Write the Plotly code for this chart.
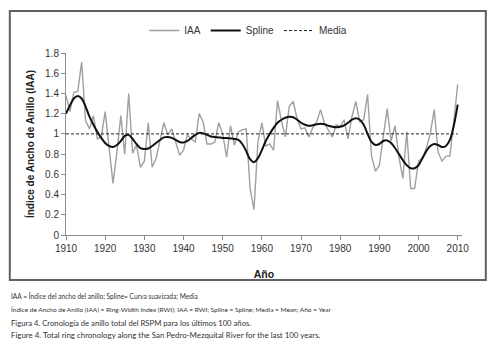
import plotly.graph_objects as go

years = list(range(1910, 2011))

iaa = [
    1.38, 1.22, 1.41, 1.42, 1.71, 1.13, 1.05, 1.18, 0.95, 0.97,  # 1910-1919
    1.22, 0.89, 0.51, 0.82, 1.18, 0.80, 1.40, 0.81, 0.89, 0.67,  # 1920-1929
    0.73, 1.11, 0.67, 0.76, 0.92, 1.11, 0.99, 1.05, 0.92, 0.79,  # 1930-1939
    0.84, 0.99, 0.95, 0.92, 1.20, 1.12, 0.90, 0.90, 0.92, 1.11,  # 1940-1949
    1.00, 0.77, 1.08, 0.89, 1.02, 1.04, 1.05, 0.46, 0.25, 0.92,  # 1950-1959
    1.11, 0.88, 0.90, 0.84, 1.33, 1.13, 0.97, 1.27, 1.32, 1.15,  # 1960-1969
    1.05, 1.06, 0.97, 1.06, 1.12, 1.24, 1.10, 1.04, 0.97, 1.09,  # 1970-1979
    1.07, 1.14, 0.95, 1.17, 1.32, 1.12, 1.14, 1.39, 0.78, 0.63,  # 1980-1989
    0.69, 0.97, 1.25, 0.93, 1.08, 0.77, 0.56, 1.02, 0.46, 0.46,  # 1990-1999
    0.73, 0.76, 0.86, 1.00, 1.24, 0.82, 0.73, 0.78, 0.78, 1.12,  # 2000-2009
    1.49,                                                        # 2010
]

spline = [
    1.20, 1.28, 1.35, 1.375, 1.35, 1.27, 1.17, 1.09, 1.02, 0.96,
    0.91, 0.88, 0.87, 0.89, 0.93, 0.98, 0.99, 0.95, 0.90, 0.86,
    0.85, 0.855, 0.88, 0.91, 0.94, 0.965, 0.97, 0.96, 0.94, 0.92,
    0.915, 0.93, 0.96, 0.99, 1.01, 1.005, 0.99, 0.975, 0.97, 0.965,
    0.96, 0.96, 0.955, 0.95, 0.94, 0.90, 0.83, 0.75, 0.72, 0.76,
    0.84, 0.93, 1.00, 1.06, 1.11, 1.14, 1.16, 1.17, 1.165, 1.14,
    1.11, 1.09, 1.08, 1.085, 1.095, 1.10, 1.095, 1.08, 1.07, 1.065,
    1.07, 1.085, 1.11, 1.14, 1.155, 1.14, 1.09, 1.00, 0.92, 0.89,
    0.90, 0.93, 0.935, 0.91, 0.86, 0.80, 0.74, 0.69, 0.66, 0.66,
    0.69, 0.76, 0.83, 0.88, 0.90, 0.89, 0.87, 0.88, 0.94, 1.08,
    1.29,
]

media_years = [1910, 2010]
media = [1.0, 1.0]

x_ticks = [1910, 1920, 1930, 1940, 1950, 1960, 1970, 1980, 1990, 2000, 2010]
y_ticks = [0, 0.2, 0.4, 0.6, 0.8, 1, 1.2, 1.4, 1.6, 1.8]
y_tick_text = ["0", "0.2", "0.4", "0.6", "0.8", "1", "1.2", "1.4", "1.6", "1.8"]

captions = [
    "IAA = Índice del ancho del anillo; Spline= Curva suavizada; Media",
    "Índice de Ancho de Anillo (IAA) = Ring-Width Index (RWI); IAA = RWI; Spline = Spline; Media = Mean; Año = Year",
    "Figura 4. Cronología de anillo total del RSPM para los últimos 100 años.",
    "Figure 4. Total ring chronology along the San Pedro-Mezquital River for the last 100 years.",
]

W, H = 496, 340
L, R, T, B = 65.7, 461.7, 52.5, 235.0
pw, ph = R - L, B - T


def px(x):
    return (x - L) / pw


def py(y):
    return (B - y) / ph


fig = go.Figure()
fig.add_trace(go.Scatter(x=years, y=iaa, mode="lines", name="IAA",
                         line=dict(color="#a0a0a0", width=1.4)))
fig.add_trace(go.Scatter(x=years, y=spline, mode="lines", name="Spline",
                         line=dict(color="#111111", width=2), line_shape="spline"))
fig.add_trace(go.Scatter(x=media_years, y=media, mode="lines", name="Media",
                         line=dict(color="#222222", width=1, dash="3px,2px")))

font_family = "Liberation Sans, Arial, sans-serif"

# outer frame around the chart
frame = dict(type="rect", xref="paper", yref="paper",
             x0=px(9.5), x1=px(485.5), y0=py(280), y1=py(10.5),
             line=dict(color="#606060", width=2), layer="above")

fig.update_layout(
    width=W, height=H,
    margin=dict(l=L, r=W - R, t=T, b=H - B, pad=0),
    paper_bgcolor="white", plot_bgcolor="white",
    font=dict(family=font_family, size=10, color="#333333"),
    showlegend=True,
    shapes=[frame],
    legend=dict(orientation="h", x=px(248), xanchor="center", y=py(30), yanchor="middle",
                font=dict(size=10, color="#333333"), bgcolor="rgba(0,0,0,0)",
                itemwidth=30, tracegroupgap=0),
    xaxis=dict(range=[1910, 2011.1], tickvals=x_ticks, showgrid=False, zeroline=False,
               showline=True, linecolor="#8c8c8c", linewidth=1,
               ticks="outside", ticklen=4, tickcolor="#8c8c8c",
               tickfont=dict(size=10, color="#333333"),
               title=dict(text="<b>Año</b>", font=dict(size=10.5, color="#222222"), standoff=17)),
    yaxis=dict(range=[0, 1.8], tickvals=y_ticks, ticktext=y_tick_text, showgrid=False,
               zeroline=False, showline=True, linecolor="#8c8c8c", linewidth=1,
               ticks="outside", ticklen=4, tickcolor="#8c8c8c",
               tickfont=dict(size=10, color="#333333"),
               title=dict(text="<b>Índice de Ancho de Anillo (IAA)</b>",
                          font=dict(size=10, color="#222222"), standoff=8)),
)

cap_y = [297, 310, 323, 335]
cap_size = [6.6, 6.5, 7.7, 7.9]
for txt, yy, sz in zip(captions, cap_y, cap_size):
    fig.add_annotation(text=txt, xref="paper", yref="paper", x=px(9), y=py(yy),
                       xanchor="left", yanchor="middle", showarrow=False,
                       font=dict(family="Lato, sans-serif", size=sz, color="#333333"))

fig.write_html("out.html",
               config={"displayModeBar": False},
               post_script="document.body.style.margin='0';document.body.style.overflow='hidden';")
